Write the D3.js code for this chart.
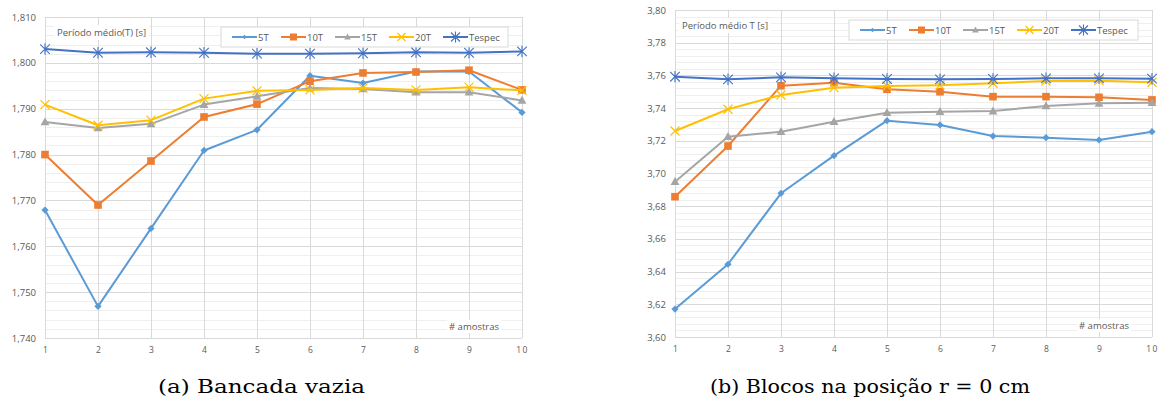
<!DOCTYPE html>
<html>
<head>
<meta charset="utf-8">
<script src="https://cdn.jsdelivr.net/npm/d3@7"></script>
<style>
  body { margin: 0; background: #fff; }
  svg { display: block; }
  text { font-family: "Open Sans", "Liberation Sans", sans-serif; fill: #595959; }
  .caption { font-family: "DejaVu Serif", "Liberation Serif", serif; fill: #000; }
</style>
</head>
<body>
<svg id="chart" width="1158" height="403"></svg>
<script>
// Sample counts along the horizontal axis
const samples = [1, 2, 3, 4, 5, 6, 7, 8, 9, 10];
const seriesNames = ["5T", "10T", "15T", "20T", "Tespec"];

// (a) Bancada vazia — mean period T [s]
const emptyBench5T     = [1.7679, 1.7469, 1.7639, 1.7809, 1.7854, 1.7972, 1.7956, 1.7981, 1.7981, 1.7892];
const emptyBench10T    = [1.7800, 1.7690, 1.7786, 1.7882, 1.7910, 1.7960, 1.7978, 1.7980, 1.7984, 1.7941];
const emptyBench15T    = [1.7871, 1.7858, 1.7867, 1.7909, 1.7927, 1.7945, 1.7943, 1.7936, 1.7936, 1.7918];
const emptyBench20T    = [1.7909, 1.7864, 1.7875, 1.7922, 1.7939, 1.7941, 1.7945, 1.7941, 1.7947, 1.7940];
const emptyBenchTespec = [1.8030, 1.8022, 1.8023, 1.8022, 1.8020, 1.8020, 1.8021, 1.8023, 1.8022, 1.8025];
const emptyBenchTicks  = [1.740, 1.750, 1.760, 1.770, 1.780, 1.790, 1.800, 1.810];

// (b) Blocos na posição r = 0 cm — mean period T [s]
const blocks5T     = [3.6171, 3.6445, 3.6879, 3.7109, 3.7323, 3.7297, 3.7229, 3.7219, 3.7205, 3.7256];
const blocks10T    = [3.6858, 3.7168, 3.7537, 3.7555, 3.7515, 3.7500, 3.7470, 3.7470, 3.7466, 3.7450];
const blocks15T    = [3.6950, 3.7225, 3.7256, 3.7317, 3.7372, 3.7378, 3.7382, 3.7413, 3.7429, 3.7433];
const blocks20T    = [3.7260, 3.7393, 3.7480, 3.7525, 3.7535, 3.7540, 3.7552, 3.7566, 3.7568, 3.7558];
const blocksTespec = [3.7592, 3.7576, 3.7588, 3.7582, 3.7578, 3.7576, 3.7578, 3.7582, 3.7582, 3.7580];
const blocksTicks  = [3.60, 3.62, 3.64, 3.66, 3.68, 3.70, 3.72, 3.74, 3.76, 3.78, 3.80];

const colors = { "5T": "#5B9BD5", "10T": "#ED7D31", "15T": "#A5A5A5", "20T": "#FFC000", "Tespec": "#4472C4" };

const svg = d3.select("#chart");

// Marker shapes per series, drawn centred on (0,0)
function drawMarker(g, name, size) {
  const c = colors[name];
  const s = size;
  if (name === "5T") {
    g.append("path").attr("d", `M0,${-s}L${s},0L0,${s}L${-s},0Z`).attr("fill", c);
  } else if (name === "10T") {
    g.append("rect").attr("x", -s).attr("y", -s).attr("width", 2 * s).attr("height", 2 * s).attr("fill", c);
  } else if (name === "15T") {
    g.append("path").attr("d", `M0,${-s * 1.1}L${s * 1.05},${s * 0.8}L${-s * 1.05},${s * 0.8}Z`).attr("fill", c);
  } else if (name === "20T") {
    g.append("path").attr("d", `M${-s},${-s}L${s},${s}M${s},${-s}L${-s},${s}`)
      .attr("stroke", c).attr("stroke-width", 1.2).attr("fill", "none");
  } else {
    g.append("path").attr("d", `M${-s},${-s}L${s},${s}M${s},${-s}L${-s},${s}M0,${-s * 1.2}L0,${s * 1.2}`)
      .attr("stroke", c).attr("stroke-width", 1.1).attr("fill", "none");
  }
}

const markerSize = { "5T": 3.6, "10T": 3.8, "15T": 4.2, "20T": 4.5, "Tespec": 4.8 };
const legendMarkerSize = { "5T": 2.2, "10T": 3.5, "15T": 3.2, "20T": 4, "Tespec": 4.5 };

function drawPanel(opt) {
  const x = d3.scaleLinear().domain([1, 10]).range([opt.left, opt.right]);
  const y = d3.scaleLinear().domain(opt.domain).range([opt.bottom, opt.top]);
  const g = svg.append("g");

  // Minor horizontal gridlines
  const minorStep = opt.step / 5;
  const minor = d3.range(opt.domain[0], opt.domain[1] + minorStep / 2, minorStep);
  g.append("g").selectAll("line").data(minor).join("line")
    .attr("x1", opt.left).attr("x2", opt.right)
    .attr("y1", d => Math.round(y(d)) + 0.5).attr("y2", d => Math.round(y(d)) + 0.5)
    .attr("stroke", "#EFEFEF").attr("stroke-width", 1);

  // Major horizontal gridlines
  g.append("g").selectAll("line").data(opt.ticks).join("line")
    .attr("x1", opt.left).attr("x2", opt.right)
    .attr("y1", d => Math.round(y(d)) + 0.5).attr("y2", d => Math.round(y(d)) + 0.5)
    .attr("stroke", "#D9D9D9").attr("stroke-width", 1);

  // Vertical gridlines at every sample
  g.append("g").selectAll("line").data(samples).join("line")
    .attr("x1", d => Math.round(x(d)) + 0.5).attr("x2", d => Math.round(x(d)) + 0.5)
    .attr("y1", opt.top).attr("y2", opt.bottom)
    .attr("stroke", "#D9D9D9").attr("stroke-width", 1);

  // Y axis labels
  const yAxis = d3.axisLeft(y).tickValues(opt.ticks).tickSize(0).tickPadding(0)
    .tickFormat(d => d3.format(opt.fmt)(d).replace(".", ","));
  const ya = g.append("g").attr("transform", `translate(${opt.left - 9},0)`).call(yAxis);
  ya.select(".domain").remove();
  ya.selectAll("text").attr("font-size", 9.5).attr("fill", "#595959")
    .style("font-family", '"Open Sans", sans-serif');

  // X axis labels
  const xAxis = d3.axisBottom(x).tickValues(samples).tickSize(0).tickPadding(0).tickFormat(d3.format("d"));
  const xa = g.append("g").attr("transform", `translate(0,${opt.bottom + 9})`).call(xAxis);
  xa.select(".domain").remove();
  xa.selectAll("text").attr("font-size", 8.5).attr("fill", "#595959")
    .attr("letter-spacing", d => d === 10 ? 1.5 : 0)
    .style("font-family", '"Open Sans", sans-serif');

  // Series lines and markers
  const line = d3.line().x((d, i) => x(samples[i])).y(d => y(d));
  seriesNames.forEach(name => {
    const vals = opt.series[name];
    g.append("path").datum(vals).attr("d", line)
      .attr("fill", "none").attr("stroke", colors[name]).attr("stroke-width", 2)
      .attr("stroke-linejoin", "round");
    vals.forEach((v, i) => {
      const m = g.append("g").attr("transform", `translate(${x(samples[i])},${y(v)})`);
      drawMarker(m, name, markerSize[name]);
    });
  });

  // Vertical axis title inside the plot
  const tt = g.append("text").attr("x", opt.titleX).attr("y", opt.titleY)
    .attr("font-size", 9.5).text(opt.title);
  const tb = tt.node().getBBox();
  g.insert("rect", () => tt.node())
    .attr("x", tb.x - 3).attr("y", tb.y - 1).attr("width", tb.width + 6).attr("height", tb.height + 2)
    .attr("fill", "#fff");

  // Horizontal axis title inside the plot
  const at = g.append("text").attr("x", opt.xTitleX).attr("y", opt.xTitleY)
    .attr("font-size", 9.5).text("# amostras");
  const ab = at.node().getBBox();
  g.insert("rect", () => at.node())
    .attr("x", ab.x - 2).attr("y", ab.y).attr("width", ab.width + 4).attr("height", ab.height)
    .attr("fill", "#fff");

  // Legend
  const lg = g.append("g").attr("transform", `translate(${opt.legendX},${opt.legendY})`);
  lg.append("rect").attr("x", 0).attr("y", 0).attr("width", opt.legendW).attr("height", 20)
    .attr("fill", "#fff").attr("stroke", "#D9D9D9").attr("stroke-width", 1);
  const offsets = [11, 60, 114, 168, 222];
  seriesNames.forEach((name, i) => {
    const ox = offsets[i];
    lg.append("line").attr("x1", ox).attr("x2", ox + 25).attr("y1", 10).attr("y2", 10)
      .attr("stroke", colors[name]).attr("stroke-width", 2);
    const m = lg.append("g").attr("transform", `translate(${ox + 12.5},10)`);
    drawMarker(m, name, legendMarkerSize[name]);
    lg.append("text").attr("x", ox + 26).attr("y", 14).attr("font-size", 9.5).text(name);
  });

  // Sub-caption below the panel
  svg.append("text").attr("class", "caption")
    .attr("x", opt.capX).attr("y", 393).attr("font-size", 19)
    .attr("textLength", opt.capW).attr("lengthAdjust", "spacingAndGlyphs")
    .text(opt.caption);
}

drawPanel({
  left: 45, right: 522, top: 17, bottom: 338,
  domain: [1.740, 1.810], step: 0.010, ticks: emptyBenchTicks, fmt: ".3f",
  series: { "5T": emptyBench5T, "10T": emptyBench10T, "15T": emptyBench15T, "20T": emptyBench20T, "Tespec": emptyBenchTespec },
  title: "Período médio(T) [s]", titleX: 57, titleY: 36,
  xTitleX: 449, xTitleY: 330,
  legendX: 221, legendY: 27, legendW: 287,
  caption: "(a) Bancada vazia", capX: 158, capW: 207
});

drawPanel({
  left: 675, right: 1152, top: 10, bottom: 337,
  domain: [3.60, 3.80], step: 0.02, ticks: blocksTicks, fmt: ".2f",
  series: { "5T": blocks5T, "10T": blocks10T, "15T": blocks15T, "20T": blocks20T, "Tespec": blocksTespec },
  title: "Período médio T [s]", titleX: 682, titleY: 29,
  xTitleX: 1079, xTitleY: 329,
  legendX: 849, legendY: 20, legendW: 289,
  caption: "(b) Blocos na posição r = 0 cm", capX: 710, capW: 320
});
</script>
</body>
</html>
